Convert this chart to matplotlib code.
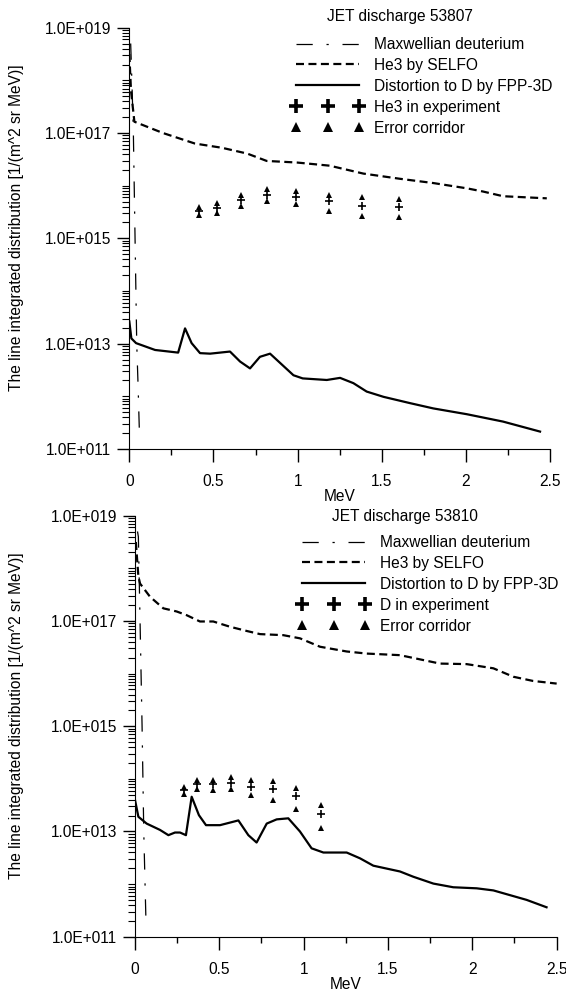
import matplotlib
matplotlib.use('Agg')
import matplotlib.pyplot as plt
from matplotlib.lines import Line2D
from matplotlib.ticker import FixedLocator, LogLocator, NullFormatter, MultipleLocator
import numpy as np

plt.rcParams['font.family'] = ['Liberation Sans', 'DejaVu Sans']
FS = 11.2

# ---- discharge 53807 (values as log10) ----
maxw1_e = [0.008, 0.015, 0.024, 0.034, 0.044, 0.052, 0.06]
maxw1_lg = [18.7, 18.0, 17.0, 15.0, 13.0, 12.2, 11.3]

he3_1_e = [0.0, 0.01, 0.03, 0.2, 0.39, 0.55, 0.70, 0.816, 0.995, 1.19, 1.39,
           1.61, 1.806, 2.005, 2.1, 2.22, 2.48]
he3_1_lg = [18.5, 17.8, 17.215, 17.0, 16.80, 16.72, 16.61, 16.47, 16.44, 16.38,
            16.23, 16.13, 16.05, 15.95, 15.89, 15.80, 15.76]

dist1_e = [0.0, 0.012, 0.04, 0.153, 0.29, 0.331, 0.37, 0.42, 0.48, 0.598, 0.658,
           0.717, 0.776, 0.836, 0.975, 1.03, 1.173, 1.252, 1.331, 1.41, 1.51,
           1.668, 1.806, 2.005, 2.22, 2.44]
dist1_lg = [13.42, 13.10, 13.01, 12.88, 12.83, 13.29, 13.01, 12.82, 12.81, 12.85,
            12.66, 12.53, 12.75, 12.81, 12.40, 12.34, 12.31, 12.35, 12.25, 12.09,
            11.99, 11.87, 11.77, 11.66, 11.52, 11.33]

exp1_e = [0.416, 0.523, 0.662, 0.816, 0.99, 1.185, 1.385, 1.60]
exp1_lg = [15.52, 15.57, 15.73, 15.82, 15.79, 15.70, 15.62, 15.60]
err1_hi = [15.59, 15.665, 15.82, 15.94, 15.905, 15.82, 15.78, 15.75]
err1_lo = [15.44, 15.49, 15.62, 15.71, 15.65, 15.525, 15.43, 15.40]

# ---- discharge 53810 ----
maxw2_e = [0.015, 0.02, 0.03, 0.042, 0.052, 0.065]
maxw2_lg = [18.7, 18.6, 17.0, 15.0, 13.0, 11.3]

he3_2_e = [0.005, 0.02, 0.03, 0.089, 0.168, 0.247, 0.306, 0.385, 0.464, 0.563,
           0.662, 0.741, 0.879, 0.978, 1.097, 1.255, 1.374, 1.571, 1.69, 1.808,
           1.966, 2.125, 2.243, 2.36, 2.5]
he3_2_lg = [18.5, 17.85, 17.71, 17.46, 17.24, 17.18, 17.11, 16.99, 16.99, 16.89,
            16.81, 16.75, 16.73, 16.67, 16.51, 16.42, 16.38, 16.35, 16.27, 16.19,
            16.18, 16.10, 15.94, 15.86, 15.81]

dist2_e = [0.0, 0.02, 0.069, 0.148, 0.198, 0.237, 0.267, 0.302, 0.336, 0.379,
           0.421, 0.504, 0.613, 0.672, 0.721, 0.781, 0.84, 0.909, 0.978, 1.047,
           1.117, 1.255, 1.334, 1.413, 1.571, 1.65, 1.769, 1.887, 2.026, 2.125,
           2.322, 2.44]
dist2_lg = [13.6, 13.28, 13.15, 13.03, 12.93, 12.98, 12.98, 12.93, 13.66, 13.31,
            13.12, 13.12, 13.21, 12.93, 12.79, 13.15, 13.23, 13.25, 13.0, 12.68,
            12.60, 12.60, 12.49, 12.35, 12.24, 12.14, 12.01, 11.94, 11.92, 11.88,
            11.70, 11.56]

exp2_e = [0.29, 0.366, 0.46, 0.567, 0.686, 0.818, 0.955, 1.10]
exp2_lg = [13.79, 13.90, 13.90, 13.93, 13.85, 13.80, 13.67, 13.33]
err2_hi = [13.85, 13.98, 13.98, 14.03, 13.97, 13.95, 13.82, 13.50]
err2_lo = [13.71, 13.81, 13.79, 13.80, 13.69, 13.60, 13.43, 13.07]

panels = [
    dict(title='JET discharge 53807', exp_label='He3 in experiment',
         maxw=(maxw1_e, maxw1_lg), he3=(he3_1_e, he3_1_lg), dist=(dist1_e, dist1_lg),
         exp=(exp1_e, exp1_lg, err1_hi, err1_lo),
         rect=[0.2285, 0.5465, 0.7435, 0.4255], title_xy=(400, 17),
         leg_xy=(291, 37), ylab_x=-0.25),
    dict(title='JET discharge 53810', exp_label='D in experiment',
         maxw=(maxw2_e, maxw2_lg), he3=(he3_2_e, he3_2_lg), dist=(dist2_e, dist2_lg),
         exp=(exp2_e, exp2_lg, err2_hi, err2_lo),
         rect=[0.2385, 0.0538, 0.745, 0.4253], title_xy=(405, 516),
         leg_xy=(297, 535), ylab_x=-0.263),
]

DASHDOT = (0, (13, 11, 1.8, 11))
DASHED = (0, (3.6, 2.0))

W, H = 566, 990
fig = plt.figure(figsize=(W / 100, H / 100), dpi=100)


def fmt_exp(p):
    return '1.0E+0%02d' % p


for p in panels:
    ax = fig.add_axes(p['rect'])
    e, lg = p['maxw']
    ax.plot(e, 10 ** np.array(lg), color='black', lw=0.9, linestyle=DASHDOT)
    e, lg = p['he3']
    ax.plot(e, 10 ** np.array(lg), color='black', lw=1.6, linestyle=DASHED)
    e, lg = p['dist']
    ax.plot(e, 10 ** np.array(lg), color='black', lw=1.6)
    e, lg, hi, lo = p['exp']
    ax.plot(e, 10 ** np.array(lg), '+', color='black', ms=6, mew=1.2)
    ax.plot(e, 10 ** np.array(hi), '^', color='black', ms=4.5, mew=0)
    ax.plot(e, 10 ** np.array(lo), '^', color='black', ms=4.5, mew=0)

    ax.set_yscale('log')
    ax.set_ylim(1e11, 1e19)
    ax.set_xlim(0, 2.5)
    ax.spines['top'].set_visible(False)
    ax.spines['right'].set_visible(False)

    majors = [10.0 ** k for k in (11, 13, 15, 17, 19)]
    ax.yaxis.set_major_locator(FixedLocator(majors))
    ax.set_yticklabels([fmt_exp(k) for k in (11, 13, 15, 17, 19)])
    ax.yaxis.set_minor_locator(LogLocator(base=10, subs=np.arange(1, 10), numticks=20))
    ax.yaxis.set_minor_formatter(NullFormatter())
    ax.xaxis.set_major_locator(FixedLocator([0, 0.5, 1, 1.5, 2, 2.5]))
    ax.set_xticklabels(['0', '0.5', '1', '1.5', '2', '2.5'])
    ax.xaxis.set_minor_locator(MultipleLocator(0.25))

    ax.tick_params(axis='both', which='major', direction='out', length=9,
                   width=1, labelsize=FS)
    ax.tick_params(axis='y', which='major', pad=4)
    ax.tick_params(axis='x', which='major', pad=9)
    ax.tick_params(axis='y', which='minor', direction='out', length=5, width=0.8)
    ax.tick_params(axis='x', which='minor', direction='out', length=4.5, width=1)

    ax.set_xlabel('MeV', fontsize=FS, labelpad=0)
    ax.set_ylabel('The line integrated distribution [1/(m^2 sr MeV)]', fontsize=FS)
    ax.yaxis.set_label_coords(p['ylab_x'], 0.525)

    fig.text(p['title_xy'][0] / W, 1 - p['title_xy'][1] / H, p['title'],
             ha='center', va='center', fontsize=FS)

    handles = [
        Line2D([], [], color='black', lw=0.9, linestyle=DASHDOT),
        Line2D([], [], color='black', lw=1.6, linestyle=DASHED),
        Line2D([], [], color='black', lw=1.6),
        Line2D([], [], color='black', marker='+', ls='none', ms=10, mew=2.6),
        Line2D([], [], color='black', marker='^', ls='none', ms=7, mew=0),
    ]
    labels = ['Maxwellian deuterium', 'He3 by SELFO', 'Distortion to D by FPP-3D',
              p['exp_label'], 'Error corridor']
    fig.legend(handles, labels, loc='upper left',
               bbox_to_anchor=(p['leg_xy'][0] / W, 1 - p['leg_xy'][1] / H),
               frameon=False, fontsize=FS, numpoints=3, handlelength=4.7,
               handletextpad=0.66, labelspacing=0.38, borderpad=0, borderaxespad=0)

fig.savefig('out.png', dpi=100)
